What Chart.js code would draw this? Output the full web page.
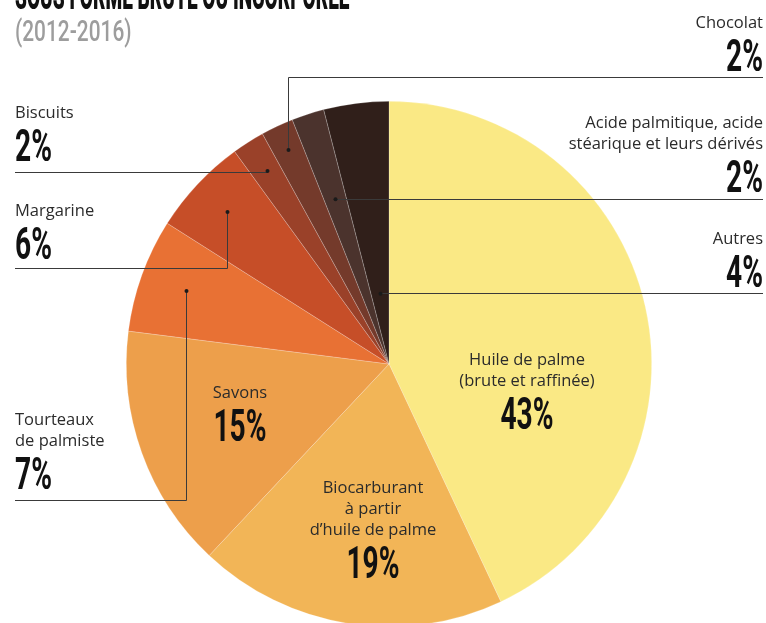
<!DOCTYPE html>
<html lang="fr">
<head>
<meta charset="utf-8">
<script src="https://cdn.jsdelivr.net/npm/chart.js@4/dist/chart.umd.min.js"></script>
<style>
  html, body { margin: 0; padding: 0; background: #fff; overflow: hidden; }
  #wrap { width: 766px; height: 650px; }
</style>
</head>
<body>
<div id="wrap"><canvas id="pie" width="766" height="650"></canvas></div>
<script>
// parts of the palm oil use, clockwise from 12 o'clock
const categories = [
	'Huile de palme (brute et raffinée)',
	'Biocarburant à partir d’huile de palme',
	'Savons',
	'Tourteaux de palmiste',
	'Margarine',
	'Biscuits',
	'Chocolat',
	'Acide palmitique, acide stéarique et leurs dérivés',
	'Autres'
];
const shares = [43, 19, 15, 7, 6, 2, 2, 2, 4];
const sliceColors = ['#FAE985', '#F2B557', '#ED9F4B', '#E87134', '#C64E28', '#9A4129', '#743A2B', '#4B332D', '#301F1A'];
const labelLines = [
	['Huile de palme', '(brute et raffinée)'],
	['Biocarburant', 'à partir', 'd’huile de palme'],
	['Savons'],
	['Tourteaux', 'de palmiste'],
	['Margarine'],
	['Biscuits'],
	['Chocolat'],
	['Acide palmitique, acide', 'stéarique et leurs dérivés'],
	['Autres']
];
const title = 'SOUS FORME BRUTE OU INCORPORÉE';
const subtitle = '(2012-2016)';

// where each label sits: x/y = first line baseline, rule = y of the leader line,
// dot = how far out along the slice's middle the leader ends (fraction of radius)
const placement = [
	{ side: 'in', x: 527, y: 365 },
	{ side: 'in', x: 373, y: 493 },
	{ side: 'in', x: 240, y: 398 },
	{ side: 'left', x: 15, y: 425, rule: 500, dot: 0.82 },
	{ side: 'left', x: 15, y: 216, rule: 268, dot: 0.845 },
	{ side: 'left', x: 15, y: 118, rule: 172, dot: 0.87 },
	{ side: 'right', x: 763, y: 27.5, rule: 77, dot: 0.9 },
	{ side: 'right', x: 763, y: 128, rule: 199, dot: 0.66 },
	{ side: 'right', x: 763, y: 244, rule: 293, dot: 0.27 }
];

const LINE_H = 21;
const PCT_GAP = 43;

// tall condensed figures: a bold face squeezed horizontally
function condensedText(ctx, txt, x, y, align, size, sx, weight, color) {
	ctx.save();
	ctx.font = weight + ' ' + size + 'px Roboto';
	ctx.fillStyle = color;
	ctx.textAlign = 'left';
	ctx.textBaseline = 'alphabetic';
	var w = ctx.measureText(txt).width * sx;
	var x0 = align == 'right' ? x - w : align == 'center' ? x - w / 2 : x;
	ctx.translate(x0, y);
	ctx.scale(sx, 1);
	ctx.fillText(txt, 0, 0);
	ctx.restore();
}

const labelPlugin = {
	id: 'pieLabels',
	afterDraw(chart) {
		var ctx = chart.ctx;
		var arcs = chart.getDatasetMeta(0).data;

		condensedText(ctx, title, 15, 9, 'left', 37, 0.515, '900', '#111');
		condensedText(ctx, subtitle, 15, 41, 'left', 29, 0.72, '500', '#9d9d9d');

		arcs.forEach((arc, i) => {
			var p = placement[i];
			var lines = labelLines[i];
			var align = p.side == 'in' ? 'center' : p.side;

			ctx.save();
			ctx.font = '16.5px "Open Sans"';
			ctx.fillStyle = '#2b2b2b';
			ctx.textAlign = align;
			ctx.textBaseline = 'alphabetic';
			lines.forEach((t, k) => ctx.fillText(t, p.x, p.y + k * LINE_H));
			ctx.restore();

			var lastY = p.y + (lines.length - 1) * LINE_H;
			condensedText(ctx, shares[i] + '%', p.x, lastY + PCT_GAP, align, 44, 0.64, 'bold', '#111');

			if (p.side == 'in') return;

			// leader: dot in the slice, up/down to the rule, then out to the label
			var mid = (arc.startAngle + arc.endAngle) / 2;
			var dx = arc.x + Math.cos(mid) * arc.outerRadius * p.dot;
			var dy = arc.y + Math.sin(mid) * arc.outerRadius * p.dot;
			var lx = Math.round(dx) + 0.5;
			var ry = Math.round(p.rule) + 0.5;
			var edge = p.side == 'left' ? 15 : 763;

			ctx.save();
			ctx.strokeStyle = '#3a3a3a';
			ctx.lineWidth = 1;
			ctx.beginPath();
			ctx.moveTo(edge, ry);
			ctx.lineTo(lx, ry);
			ctx.lineTo(lx, dy);
			ctx.stroke();
			ctx.fillStyle = '#1a1a1a';
			ctx.beginPath();
			ctx.arc(lx, dy, 2, 0, Math.PI * 2);
			ctx.fill();
			ctx.restore();
		});
	}
};

var ctx = document.getElementById('pie').getContext('2d');
new Chart(ctx, {
	type: 'pie',
	data: {
		labels: categories,
		datasets: [{
			data: shares,
			backgroundColor: sliceColors,
			borderColor: 'rgba(255,255,255,0.3)',
			borderWidth: 0.7
		}]
	},
	options: {
		responsive: false,
		devicePixelRatio: 1,
		animation: false,
		layout: { padding: { left: 126, right: 114, top: 101, bottom: 23 } },
		plugins: {
			legend: { display: false },
			tooltip: { enabled: false }
		}
	},
	plugins: [labelPlugin]
});
</script>
</body>
</html>
